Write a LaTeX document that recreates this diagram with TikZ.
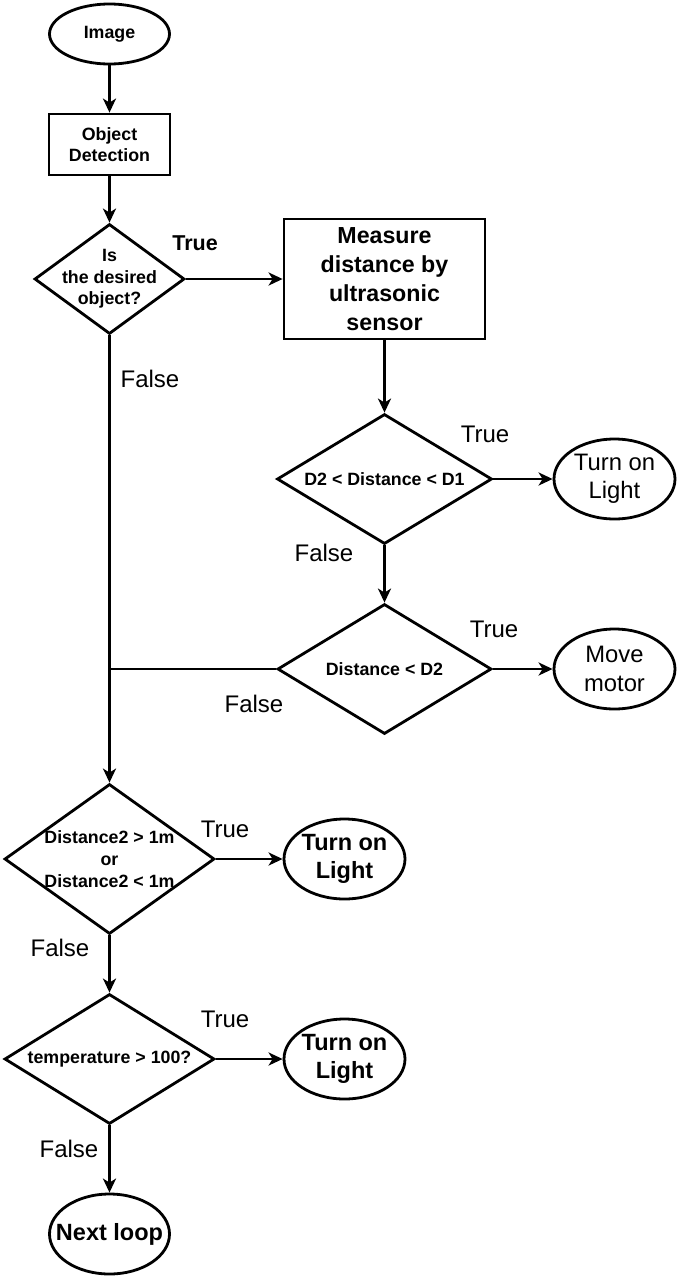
\documentclass[tikz,border=0pt]{standalone}
\usepackage{fontspec}
\setmainfont{Liberation Sans}
\usetikzlibrary{shapes.geometric,arrows.meta}
\begin{document}
\begin{tikzpicture}[x=1pt,y=-1pt,
  base/.style={draw=black, line width=2.8pt, inner sep=0pt, fill=white},
  term/.style={base, ellipse},
  proc/.style={base, rectangle},
  dec/.style={base, diamond, aspect=1},
  sb/.style={font=\fontsize{17.8}{21.5}\selectfont\bfseries, align=center},
  bb/.style={font=\fontsize{23.5}{28}\selectfont\bfseries, align=center},
  rr/.style={font=\fontsize{23.8}{28.5}\selectfont, align=center},
  lab/.style={font=\fontsize{24}{28}\selectfont},
  arr/.style={line width=2.8pt, -{Stealth[length=14pt,width=13pt,inset=4pt]}},
  plain/.style={line width=2.8pt, -}
]
\useasboundingbox (0,0) rectangle (680,1280);

% nodes
\node[term, minimum width=120pt, minimum height=60pt] (img) at (109.5,34) {};
\node[sb] (imgt) at (img) {Image};

\node[proc, minimum width=121pt, minimum height=61pt] (od) at (109.5,144.5) {};
\node[sb] (odt) at (od) {Object\\Detection};

\node[dec, minimum width=150pt, minimum height=110pt] (d1) at (109.5,279) {};
\node[sb] (d1t) at (d1) {Is\\the desired\\object?};

\node[proc, minimum width=201pt, minimum height=120pt] (ms) at (384.5,279) {};
\node[font=\fontsize{23.2}{29}\selectfont\bfseries, align=center] (mst) at (ms) {Measure\\distance by\\ultrasonic\\sensor};

\node[dec, minimum width=215pt, minimum height=130pt] (d2) at (384.5,479) {};
\node[sb] (d2t) at (d2) {D2 < Distance < D1};

\node[term, minimum width=121pt, minimum height=80pt] (tl1) at (614.5,479) {};
\node[rr] (tl1t) at (tl1) {Turn on\\Light};

\node[dec, minimum width=214pt, minimum height=130pt] (d3) at (384.5,669) {};
\node[sb] (d3t) at (d3) {Distance < D2};

\node[term, minimum width=121pt, minimum height=80pt] (mm) at (614.5,669) {};
\node[rr] (mmt) at (mm) {Move\\motor};

\node[dec, minimum width=210pt, minimum height=150pt] (d4) at (109.5,859) {};
\node[sb, font=\fontsize{17.8}{21.8}\selectfont\bfseries] (d4t) at (d4) {Distance2 > 1m\\or\\Distance2 < 1m};

\node[term, minimum width=121pt, minimum height=80pt] (tl2) at (344.5,859) {};
\node[bb] (tl2t) at (tl2) {Turn on\\Light};

\node[dec, minimum width=210pt, minimum height=130pt] (d5) at (109.5,1059) {};
\node[sb] (d5t) at (d5) {temperature > 100?};

\node[term, minimum width=121pt, minimum height=80pt] (tl3) at (344.5,1059) {};
\node[bb] (tl3t) at (tl3) {Turn on\\Light};

\node[term, minimum width=120pt, minimum height=80pt] (nl) at (109.5,1234) {};
\node[bb] (nlt) at (nl) {Next loop};

\coordinate (j) at (109.5,669);

% connectors
\draw[arr] (img) -- (od);
\draw[arr] (od) -- (d1);
\draw[arr] (d1) -- (ms);
\draw[arr] (ms) -- (d2);
\draw[arr] (d2) -- (tl1);
\draw[arr] (d2) -- (d3);
\draw[arr] (d3) -- (mm);
\draw[arr] (d1.south) -- (d4.north);
\draw[plain] (d3.west) -- (j);
\draw[arr] (d4) -- (tl2);
\draw[arr] (d4) -- (d5);
\draw[arr] (d5) -- (tl3);
\draw[arr] (d5) -- (nl);

% labels
\node[font=\fontsize{21.5}{25}\selectfont\bfseries] (l1) at (195,243) {True};
\node[lab] (l2) at (150,379) {False};
\node[lab] (l3) at (485,434) {True};
\node[lab] (l4) at (324,553) {False};
\node[lab] (l5) at (494,629) {True};
\node[lab] (l6) at (254,704) {False};
\node[lab] (l7) at (225,829) {True};
\node[lab] (l8) at (60,948) {False};
\node[lab] (l9) at (225,1019) {True};
\node[lab] (l10) at (69,1149) {False};
\end{tikzpicture}
\end{document}
